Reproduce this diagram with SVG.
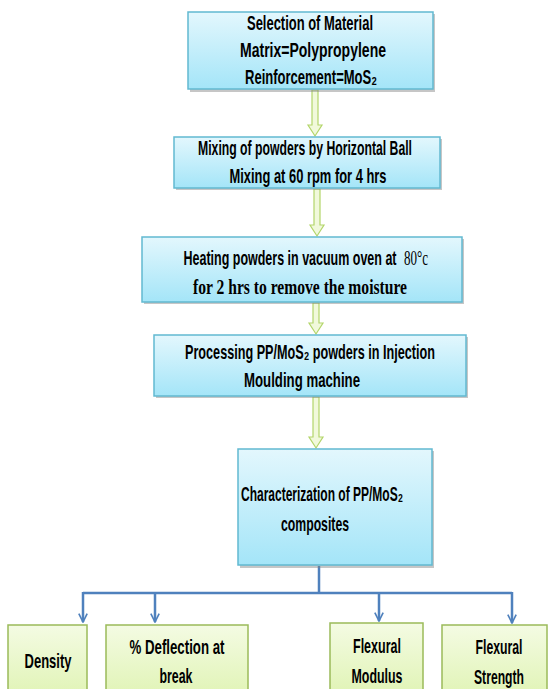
<svg xmlns="http://www.w3.org/2000/svg" width="549" height="689" viewBox="0 0 549 689">
<defs>
<linearGradient id="blueG" x1="0" y1="0" x2="0" y2="1">
<stop offset="0" stop-color="#e3f7fd"/>
<stop offset="1" stop-color="#a4e5f8"/>
</linearGradient>
<linearGradient id="greenG" x1="0" y1="0" x2="0" y2="1">
<stop offset="0" stop-color="#f4fbe3"/>
<stop offset="1" stop-color="#def3b0"/>
</linearGradient>
<marker id="ah" viewBox="0 0 12 12" refX="11" refY="6" markerWidth="4" markerHeight="4" orient="auto" markerUnits="strokeWidth">
<path d="M1,1 L11,6 L1,11" fill="none" stroke="#4f81bd" stroke-width="2"/>
</marker>
</defs>
<style>
.box{fill:url(#blueG);stroke:#62b9d1;stroke-width:1.5}
.shadow{fill:#808080;opacity:0.45}
.gbox{fill:url(#greenG);stroke:#9bbb59;stroke-width:1.5}
.t{font-family:"Liberation Sans",Arial,"DejaVu Sans",sans-serif;font-weight:bold;font-size:21px;fill:#000;text-anchor:middle}
.ts{font-family:"Liberation Serif","Times New Roman",serif;font-weight:bold;font-size:21px;fill:#000;text-anchor:middle}
.tn{font-family:"Liberation Serif","Times New Roman",serif;font-size:21px;fill:#000;text-anchor:start}
.flow{fill:#f1f9db;stroke:#b3d56a;stroke-width:1.2}
.conn{fill:none;stroke:#4f81bd;stroke-width:2.5}
</style>
<rect width="549" height="689" fill="#ffffff"/>

<g id="connectors">
<path class="flow" d="M312,90 L318,90 L318,125 L322,125 L315,136 L308,125 L312,125 Z"/>
<path class="flow" d="M314,189 L320,189 L320,225 L324,225 L317,236 L310,225 L314,225 Z"/>
<path class="flow" d="M313,303 L319,303 L319,323 L323,323 L316,334 L309,323 L313,323 Z"/>
<path class="flow" d="M313,397 L319,397 L319,437 L323,437 L316,448 L309,437 L313,437 Z"/>
<path class="conn" d="M319,566 L319,593 M83,593 L512,593"/>
<path class="conn" d="M83,592 L83,622" marker-end="url(#ah)"/>
<path class="conn" d="M155,592 L155,622" marker-end="url(#ah)"/>
<path class="conn" d="M379,592 L379,621" marker-end="url(#ah)"/>
<path class="conn" d="M512,592 L512,623" marker-end="url(#ah)"/>
</g>

<g id="n1">
<rect class="shadow" x="190" y="14" width="245" height="78"/>
<rect class="box" x="188" y="12" width="245" height="77"/>
<text class="t" x="310" y="30" textLength="126" lengthAdjust="spacingAndGlyphs">Selection of Material</text>
<text class="t" x="313" y="57" textLength="146" lengthAdjust="spacingAndGlyphs">Matrix=Polypropylene</text>
<text class="t" x="311" y="84" textLength="132" lengthAdjust="spacingAndGlyphs">Reinforcement=MoS₂</text>
</g>

<g id="n2">
<rect class="shadow" x="176" y="139" width="266" height="51"/>
<rect class="box" x="174" y="137" width="266" height="51"/>
<text class="t" x="305" y="155" textLength="214" lengthAdjust="spacingAndGlyphs">Mixing of powders by Horizontal Ball</text>
<text class="t" x="308" y="183" textLength="157" lengthAdjust="spacingAndGlyphs">Mixing at 60 rpm for 4 hrs</text>
</g>

<g id="n3">
<rect class="shadow" x="144" y="239" width="320" height="65"/>
<rect class="box" x="142" y="237" width="320" height="65"/>
<text class="t" x="290" y="265" textLength="213" lengthAdjust="spacingAndGlyphs">Heating powders in vacuum oven at</text>
<text class="tn" x="404" y="265" textLength="24" lengthAdjust="spacingAndGlyphs">80°c</text>
<text class="ts" x="300" y="294" textLength="214" lengthAdjust="spacingAndGlyphs">for 2 hrs to remove the moisture</text>
</g>

<g id="n4">
<rect class="shadow" x="156" y="337" width="312" height="61"/>
<rect class="box" x="154" y="335" width="312" height="61"/>
<text class="t" x="310" y="359" textLength="250" lengthAdjust="spacingAndGlyphs">Processing  PP/MoS₂ powders in Injection</text>
<text class="t" x="302" y="387" textLength="116" lengthAdjust="spacingAndGlyphs">Moulding machine</text>
</g>

<g id="n5">
<rect class="shadow" x="240" y="451" width="194" height="117"/>
<rect class="box" x="238" y="449" width="194" height="116"/>
<text class="t" x="322" y="501" textLength="162" lengthAdjust="spacingAndGlyphs">Characterization of PP/MoS₂</text>
<text class="t" x="315" y="531" textLength="68" lengthAdjust="spacingAndGlyphs">composites</text>
</g>

<g id="n6">
<rect class="gbox" x="8" y="625" width="79" height="80"/>
<text class="t" x="48" y="668" textLength="47" lengthAdjust="spacingAndGlyphs">Density</text>
</g>

<g id="n7">
<rect class="gbox" x="106" y="625" width="142" height="80"/>
<text class="t" x="177" y="654" textLength="95" lengthAdjust="spacingAndGlyphs">% Deflection  at</text>
<text class="t" x="176" y="683" textLength="33" lengthAdjust="spacingAndGlyphs">break</text>
</g>

<g id="n8">
<rect class="gbox" x="330" y="623" width="93" height="80"/>
<text class="t" x="377" y="653" textLength="48" lengthAdjust="spacingAndGlyphs">Flexural</text>
<text class="t" x="377" y="683" textLength="51" lengthAdjust="spacingAndGlyphs">Modulus</text>
</g>

<g id="n9">
<rect class="gbox" x="442" y="625" width="105" height="80"/>
<text class="t" x="499" y="654" textLength="47" lengthAdjust="spacingAndGlyphs">Flexural</text>
<text class="t" x="499" y="684" textLength="50" lengthAdjust="spacingAndGlyphs">Strength</text>
</g>
</svg>
